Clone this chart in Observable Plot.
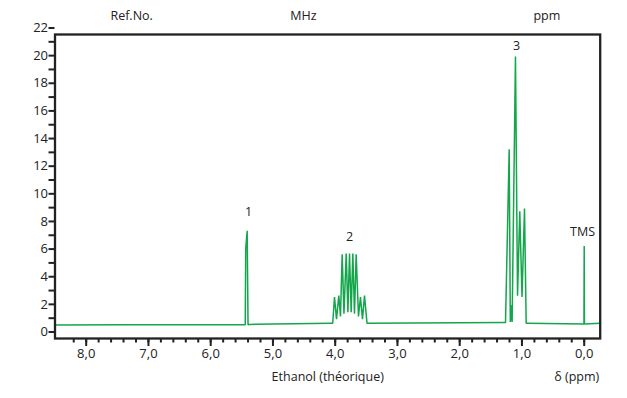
<!DOCTYPE html>
<html>
<head>
<meta charset="utf-8">
<script src="https://cdn.jsdelivr.net/npm/d3@7"></script>
<script src="https://cdn.jsdelivr.net/npm/@observablehq/plot@0.6"></script>
<style>
  html, body { margin: 0; padding: 0; background: #fff; }
  #chart { width: 627px; height: 398px; }
</style>
</head>
<body>
<div id="chart"></div>
<script>
// Spectrum: chemical shift (ppm) and intensity
const spectrumPpm = [
  8.50, 7.40, 5.46, 5.445, 5.437, 5.414, 5.400, 5.38,
  4.060, 4.040, 4.011, 3.979, 3.942, 3.915, 3.888, 3.859, 3.823, 3.796, 3.770,
  3.743, 3.717, 3.690, 3.663, 3.626, 3.594, 3.562, 3.529, 3.489, 3.47,
  1.280, 1.264, 1.205, 1.187, 1.173, 1.158, 1.104, 1.071, 1.035, 0.999, 0.959, 0.932, 0.92,
  0.004, 0.000, -0.004, -0.257
];
const spectrumIntensity = [
  0.98, 1.00, 1.00, 1.00, 6.5, 7.8, 1.00, 1.02,
  1.10, 1.10, 3.0, 1.4, 3.1, 1.6, 6.1, 1.8, 6.15, 1.9, 6.15,
  1.9, 6.15, 1.8, 6.1, 1.6, 3.0, 1.4, 3.1, 1.10, 1.10,
  1.15, 1.15, 13.7, 1.2, 2.4, 1.2, 20.4, 3.1, 9.2, 3.0, 9.4, 1.10, 1.10,
  1.05, 6.7, 1.05, 1.10
];

// Peak annotations
const peakLabels = ["1", "2", "3", "TMS"];
const peakLabelPpm = [5.393, 3.770, 1.088, 0.027];
const peakLabelIntensity = [9.19, 7.31, 21.2, 7.74];

// Axis ticks
const xMajorTicks = [0, 1, 2, 3, 4, 5, 6, 7, 8];
const xTickLabels = ["0,0", "1,0", "2,0", "3,0", "4,0", "5,0", "6,0", "7,0", "8,0"];
const xMinorTicks = d3.range(0, 42).map(i => i * 0.2).filter(v => v <= 8.5);
const yTicks = d3.range(0, 23);
const yTickLabels = yTicks.map(v => (v % 2 === 0 ? String(v) : ""));

// Header / footer texts
const headerTexts = ["Ref.No.", "MHz", "ppm"];
const xAxisTitle = "Ethanol (théorique)";
const xAxisUnit = "δ (ppm)";

const spectrum = spectrumPpm.map((p, i) => ({ppm: p, intensity: spectrumIntensity[i]}));
const peaks = peakLabels.map((t, i) => ({t, ppm: peakLabelPpm[i], y: peakLabelIntensity[i]}));

const green = "#13a64b";
const ink = "#222";
const font = "'Open Sans', sans-serif";

const chart = Plot.plot({
  width: 627,
  height: 398,
  marginLeft: 54.5,
  marginRight: 27.3,
  marginTop: 34,
  marginBottom: 60,
  style: {fontFamily: font, background: "#fff", color: ink, overflow: "visible"},
  x: {domain: [8.501, -0.257]},
  y: {domain: [0, 22]},
  marks: [
    Plot.line(spectrum, {x: "ppm", y: "intensity", stroke: green, strokeWidth: 1.5, strokeLinejoin: "miter"}),
    Plot.frame({stroke: ink, strokeWidth: 2.3}),
    Plot.axisY({
      ticks: yTicks, tickSize: 6, tickPadding: 1, stroke: ink, strokeWidth: 2,
      tickFormat: (d, i) => yTickLabels[yTicks.indexOf(d)], fontSize: 13, dy: -6.5,
      label: null, fill: ink
    }),
    Plot.axisX({ticks: xMinorTicks, tickSize: 4.5, tickFormat: () => "", stroke: ink, strokeWidth: 2, label: null}),
    Plot.axisX({
      ticks: xMajorTicks, tickSize: 8, tickPadding: 2, stroke: ink, strokeWidth: 2,
      tickFormat: d => xTickLabels[xMajorTicks.indexOf(d)], fontSize: 13, label: null, fill: ink
    }),
    Plot.text(peaks, {x: "ppm", y: "y", text: "t", fontSize: 12.5, fill: ink}),
    Plot.text(headerTexts, {x: [7.27, 4.51, 0.60], y: [23.37, 23.37, 23.37], text: d => d, fontSize: 12.5, fill: ink}),
    Plot.text([xAxisTitle], {x: [4.12], y: [-2.75], text: d => d, fontSize: 12.5, fill: ink}),
    Plot.text([xAxisUnit], {x: [0.12], y: [-2.75], text: d => d, fontSize: 12.5, fill: ink})
  ]
});
document.getElementById("chart").appendChild(chart);
</script>
</body>
</html>
